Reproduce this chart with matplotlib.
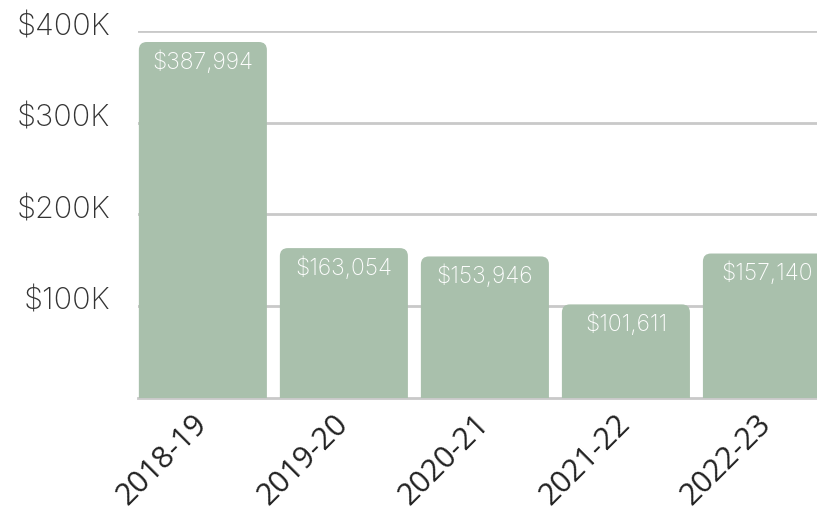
import matplotlib
matplotlib.use('Agg')
import matplotlib.pyplot as plt
import matplotlib.transforms as mtransforms
from matplotlib.patches import FancyBboxPatch
import numpy as np

years = ['2018-19', '2019-20', '2020-21', '2021-22', '2022-23']
amounts = [387994, 163054, 153946, 101611, 157140]
yticks = [100000, 200000, 300000, 400000]
ytick_labels = ['$100K', '$200K', '$300K', '$400K']

bar_color = '#a9c0ac'
grid_color = '#c9c9c9'

fig = plt.figure(figsize=(8.17, 5.14), dpi=100)
ax = fig.add_axes([138 / 817, 116.5 / 514, 1 - 138 / 817, (483 - 116.5) / 514])

x = np.arange(len(years))
bars = ax.bar(x, amounts, width=0.908, color=bar_color, zorder=2)
ax.set_xlim(-0.46, 4.355)
ax.set_ylim(0, 400000)

# gridlines behind bars
for v in [0] + yticks:
    ax.axhline(v, color=grid_color, linewidth=2, zorder=1, clip_on=False if v == 0 else True)

# swap plain bars for rounded-top ones
fig.canvas.draw()
p0 = ax.transData.transform((0, 0))
p1 = ax.transData.transform((1, 1))
px_per_x = p1[0] - p0[0]
px_per_y = p1[1] - p0[1]
radius_px = 8
rx = radius_px / px_per_x
aspect = px_per_x / px_per_y
for b in bars:
    b.set_visible(False)
    extra = radius_px * 2 / px_per_y
    patch = FancyBboxPatch((b.get_x(), -extra), b.get_width(), b.get_height() + extra,
                           boxstyle='round,pad=0,rounding_size=%f' % rx,
                           mutation_aspect=aspect, facecolor=bar_color,
                           edgecolor='none', zorder=2)
    ax.add_patch(patch)

for xi, v in zip(x, amounts):
    ax.annotate('${:,}'.format(v), (xi, v), xytext=(0, -14.5), textcoords='offset points',
                ha='center', va='center', color='white', fontsize=16.5,
                family='Inter', fontweight='light', zorder=3)

ax.set_yticks(yticks)
ax.set_yticklabels(ytick_labels, family='Inter', fontweight='light', fontsize=22, color='#333333')
ax.set_xticks(x)
ax.set_xticklabels(years, rotation=45, ha='right', va='center', rotation_mode='anchor',
                   fontsize=22, family='Open Sans', color='#222222')
ax.tick_params(axis='both', length=0)
ax.tick_params(axis='y', pad=20)
ax.tick_params(axis='x', pad=16)
for s in ax.spines.values():
    s.set_visible(False)

# y labels sit a little above their gridlines (after tick_params, which resets transforms)
shift = mtransforms.ScaledTranslation(0, 5 / 72, fig.dpi_scale_trans)
for lab in ax.get_yticklabels():
    lab.set_transform(lab.get_transform() + shift)

fig.savefig('out.png', dpi=100)
